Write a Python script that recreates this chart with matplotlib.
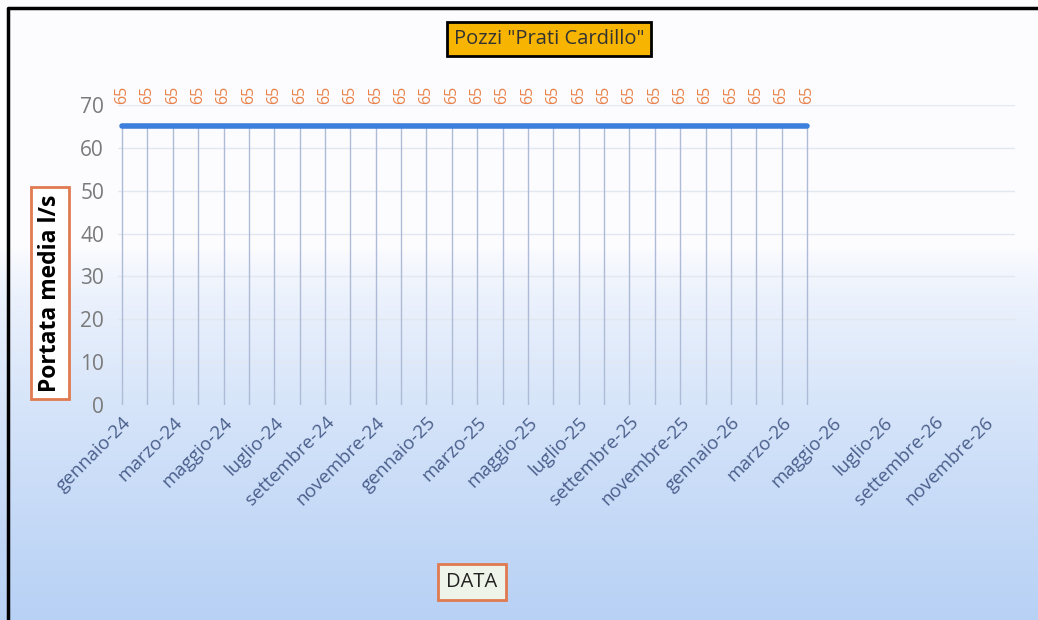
import matplotlib.pyplot as plt
import numpy as np

# mesi da gennaio-24 a dicembre-26, dati fino ad aprile-26
mesi = ["gennaio", "febbraio", "marzo", "aprile", "maggio", "giugno",
        "luglio", "agosto", "settembre", "ottobre", "novembre", "dicembre"]
anni = ["24", "25", "26"]
etichette = [m + "-" + a for a in anni for m in mesi]
portata = [65] * 28  # l/s, gennaio-24 ... aprile-26

plt.rcParams['font.family'] = ['Open Sans', 'DejaVu Sans']

fig = plt.figure(figsize=(10.38, 6.2), dpi=100)

# sfondo sfumato bianco -> azzurro
bg = fig.add_axes([0, 0, 1, 1], zorder=-10)
grad = np.linspace(0, 1, 256)
grad = np.clip((grad - 0.4) / 0.6, 0, 1) ** 0.7
top = np.array([0.99, 0.99, 1.0])
bot = np.array([0.72, 0.82, 0.96])
img = top[None, :] * (1 - grad[:, None]) + bot[None, :] * grad[:, None]
bg.imshow(img[:, None, :], aspect='auto', extent=[0, 1, 0, 1])
bg.plot([8 / 1038, 8 / 1038, 1], [0, 1 - 8 / 620, 1 - 8 / 620], color='black', lw=2.5)
bg.set_xlim(0, 1)
bg.set_ylim(0, 1)
bg.axis('off')

ax = fig.add_axes([118 / 1038, 1 - 405 / 620, (1015 - 118) / 1038, 300 / 620])
ax.patch.set_alpha(0)
x = np.arange(len(portata))
ax.vlines(x, 0, portata, color='#aebbd6', lw=1)
ax.plot(x, portata, color='#3d7fdc', lw=4, solid_capstyle='round')
for xi, v in zip(x, portata):
    ax.annotate(str(v), (xi, v), xytext=(0, 23), textcoords='offset points',
                rotation=90, ha='center', va='center', color='#e8824a',
                fontsize=11.5, annotation_clip=False)

ax.set_xlim(-0.16, 35.2)
ax.set_ylim(0, 70)
ax.set_yticks(range(0, 71, 10))
ax.yaxis.grid(True, color='#e2e7f0', lw=1)
ax.set_xticks(np.arange(0, 36, 2))
ax.set_xticklabels(etichette[::2], rotation=45, ha='right', rotation_mode='anchor',
                   color='#4a5f8c', fontsize=13.5)
ax.tick_params(axis='y', colors='#7a7a7a', labelsize=15, length=0, pad=10)
ax.tick_params(axis='x', length=0, pad=6)
for s in ax.spines.values():
    s.set_visible(False)

fig.text(549 / 1038, 1 - 39 / 620, 'Pozzi "Prati Cardillo"', ha='center', va='center',
         fontsize=14.5, color='#333333',
         bbox=dict(boxstyle='square,pad=0.35', fc='#f7b400', ec='black', lw=2))
fig.text(50 / 1038, 1 - 293 / 620, 'Portata media l/s', ha='center', va='center',
         rotation=90, fontsize=16.5, fontweight='bold', color='black',
         bbox=dict(boxstyle='square,pad=0.3', fc='white', ec='#e07a50', lw=2))
fig.text(472 / 1038, 1 - 582 / 620, 'DATA', ha='center', va='center',
         fontsize=14.5, color='#222222',
         bbox=dict(boxstyle='square,pad=0.4', fc='#eef4ea', ec='#e07a50', lw=2))

plt.savefig("out.png", dpi=100)
